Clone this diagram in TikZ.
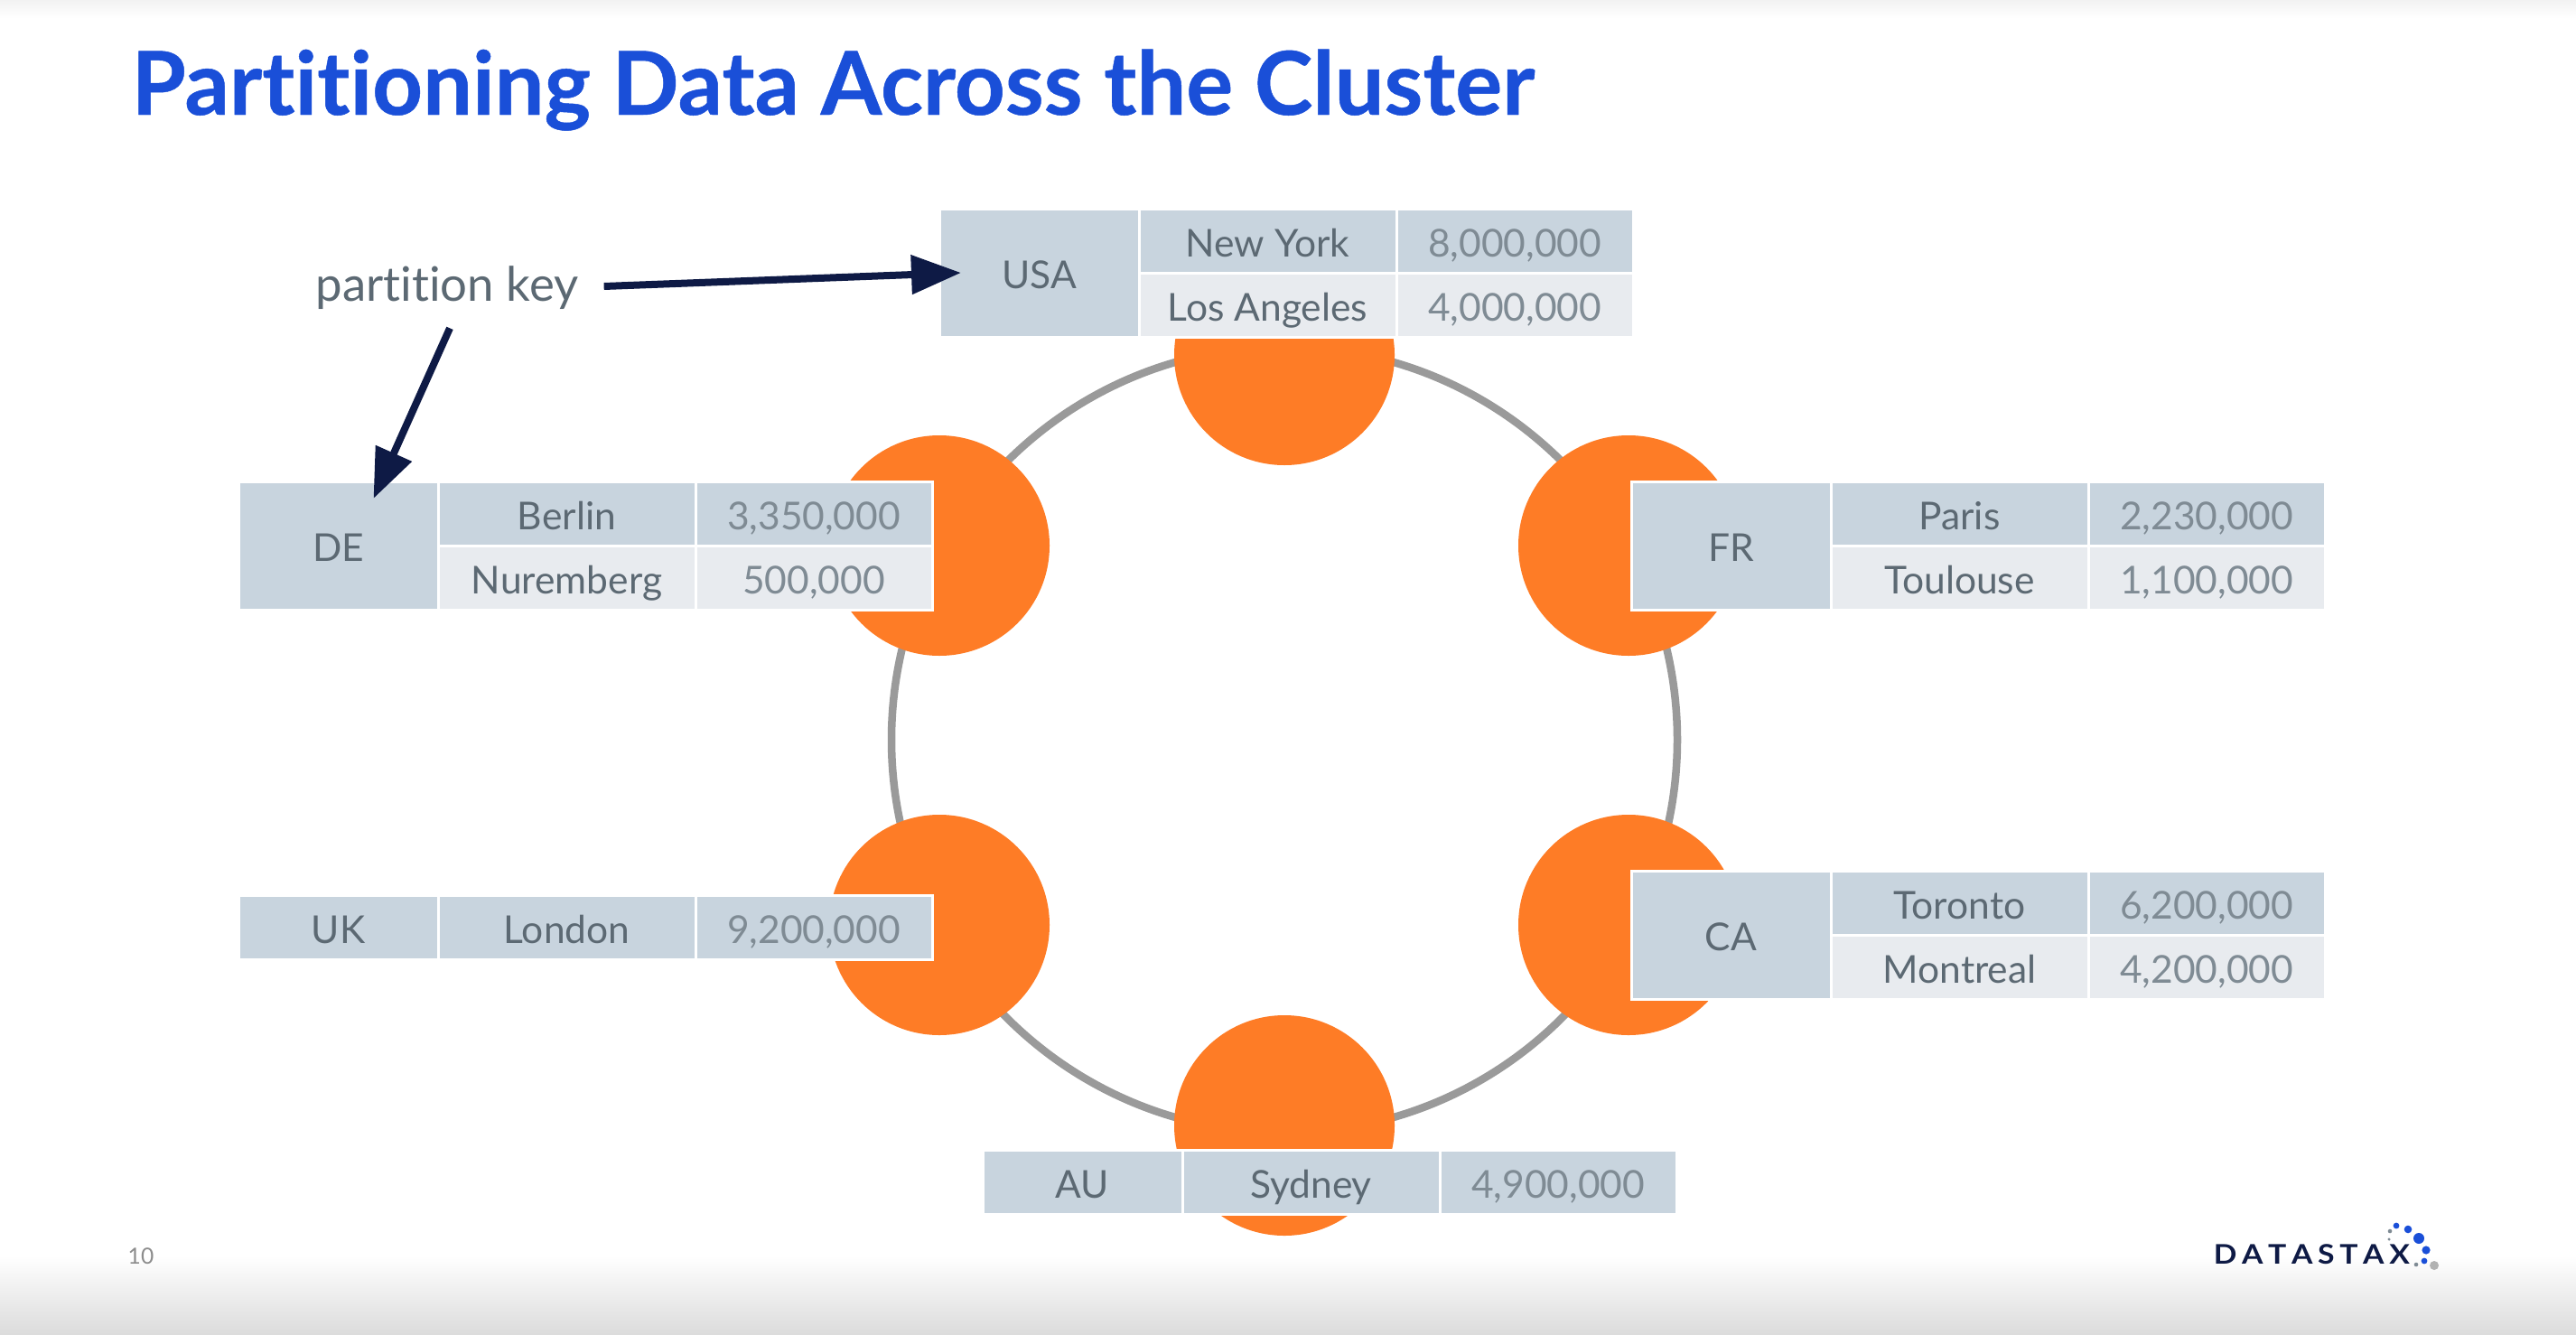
\documentclass[tikz,border=0pt]{standalone}
\usepackage{fontspec}
\setmainfont{Lato}[Ligatures=NoCommon]
\usetikzlibrary{positioning,arrows.meta,calc}

\definecolor{titleblue}{HTML}{1A4FD8}
\definecolor{slateink}{HTML}{5C6973}
\definecolor{popink}{HTML}{7F8B94}
\definecolor{darkrow}{HTML}{C8D4DE}
\definecolor{lightrow}{HTML}{E8EBEF}
\definecolor{nodeorange}{HTML}{FE7C26}
\definecolor{ringgray}{HTML}{9A9A9A}
\definecolor{navy}{HTML}{0E1A45}

\begin{document}
\begin{tikzpicture}[
	font=\fontsize{12.1}{15}\selectfont,
	cell/.style={
		draw=white,
		line width=0.03cm,
		outer sep=0pt,
		inner sep=0pt,
		align=center,
		text height=11pt,
		text depth=0.9pt,
	},
	keycell/.style={cell, fill=darkrow, text=slateink, minimum width=2.21cm},
	citydark/.style={cell, fill=darkrow, text=slateink, minimum width=2.85cm, minimum height=0.71cm},
	citylight/.style={cell, fill=lightrow, text=slateink, minimum width=2.85cm, minimum height=0.71cm},
	popdark/.style={cell, fill=darkrow, text=popink, minimum width=2.62cm, minimum height=0.71cm},
	poplight/.style={cell, fill=lightrow, text=popink, minimum width=2.62cm, minimum height=0.71cm},
	ringnode/.style={circle, fill=nodeorange, minimum size=2.44cm, inner sep=0pt},
	arr/.style={-{Triangle[length=0.55cm,width=0.42cm]}, navy, line width=0.08cm},
]
\useasboundingbox (0,0) rectangle (28.52,-14.78);

% Slide background
\fill[white] (0,0) rectangle (28.52,-14.78);
\shade[top color=black!5, bottom color=white] (0,0) rectangle (28.52,-0.2);
\shade[top color=white, bottom color=black!14] (0,-13.9) rectangle (28.52,-14.78);

\node[anchor=base west, inner sep=0pt, text=titleblue, font=\fontsize{27.7}{34}\selectfont\bfseries\addfontfeatures{FakeBold=0.5}] (title) at (1.45,-1.27) {Partitioning Data Across the Cluster};

% Ring and its six nodes
\node[circle, draw=ringgray, line width=0.085cm, minimum size=8.7cm, inner sep=0pt] (ring) at (14.22,-8.19) {};
\node[ringnode] (top) at (14.22,-3.93) {};
\node[ringnode] (upleft) at (10.40,-6.04) {};
\node[ringnode] (upright) at (18.03,-6.04) {};
\node[ringnode] (lowleft) at (10.40,-10.24) {};
\node[ringnode] (lowright) at (18.03,-10.24) {};
\node[ringnode] (bottom) at (14.22,-12.46) {};

% USA table
\node[keycell, minimum height=1.42cm, anchor=north west] (usa) at (10.40,-2.31) {USA};
\node[citydark, anchor=north west] (newyork) at (usa.north east) {New York};
\node[popdark, right=0pt of newyork] (newyorkpop) {8,000,000};
\node[citylight, below=0pt of newyork] (losangeles) {Los Angeles};
\node[poplight, right=0pt of losangeles] (losangelespop) {4,000,000};

% DE table
\node[keycell, minimum height=1.42cm, anchor=north west] (de) at (2.64,-5.33) {DE};
\node[citydark, anchor=north west] (berlin) at (de.north east) {Berlin};
\node[popdark, right=0pt of berlin] (berlinpop) {3,350,000};
\node[citylight, below=0pt of berlin] (nuremberg) {Nuremberg};
\node[poplight, right=0pt of nuremberg] (nurembergpop) {500,000};

% FR table
\node[keycell, minimum height=1.42cm, anchor=north west] (fr) at (18.06,-5.33) {FR};
\node[citydark, anchor=north west] (paris) at (fr.north east) {Paris};
\node[popdark, right=0pt of paris] (parispop) {2,230,000};
\node[citylight, below=0pt of paris] (toulouse) {Toulouse};
\node[poplight, right=0pt of toulouse] (toulousepop) {1,100,000};

% UK table
\node[keycell, minimum height=0.71cm, anchor=north west] (uk) at (2.64,-9.91) {UK};
\node[citydark, right=0pt of uk] (london) {London};
\node[popdark, right=0pt of london] (londonpop) {9,200,000};

% CA table
\node[keycell, minimum height=1.42cm, anchor=north west] (ca) at (18.06,-9.64) {CA};
\node[citydark, anchor=north west] (toronto) at (ca.north east) {Toronto};
\node[popdark, right=0pt of toronto] (torontopop) {6,200,000};
\node[citylight, below=0pt of toronto] (montreal) {Montreal};
\node[poplight, right=0pt of montreal] (montrealpop) {4,200,000};

% AU table
\node[keycell, minimum height=0.71cm, anchor=north west] (au) at (10.88,-12.73) {AU};
\node[citydark, right=0pt of au] (sydney) {Sydney};
\node[popdark, right=0pt of sydney] (sydneypop) {4,900,000};

% Partition key label with its two arrows
\node[text=slateink, font=\fontsize{15}{18}\selectfont] (pkey) at (4.95,-3.19) {partition key};
\coordinate (usaTip) at ($(usa.west)+(0.24,0)$);
\coordinate (deTip) at ($(de.north)+(0.39,-0.19)$);
\coordinate (pkeyBelow) at ($(pkey.south)+(0.03,-0.08)$);
\draw[arr] ($(pkey.east)+(0.16,0.02)$) -- (usaTip);
\draw[arr] (pkeyBelow) -- (deTip);

% Page number and logo
\node[text=black!45, font=\fontsize{7}{8}\selectfont] (pagenum) at (1.56,-13.91) {10};
\node[text=navy, anchor=west, inner sep=0pt, font=\fontsize{8.5}{10}\selectfont\bfseries, xscale=1.13] (logo) at (24.50,-13.89) {D\,A\,T\,A\,S\,T\,A\,X};
\foreach \dotx/\doty/\dotr/\dotcol in {
	2653/1357/3.4/titleblue, 2666/1361/4.3/titleblue, 2678/1371/6/titleblue,
	2686/1384/4.6/titleblue, 2684/1396/3.4/titleblue, 2695/1401/5/black!30,
	2675/1400/2.3/popink, 2646/1363/2.3/popink, 2645/1372/1.7/popink}
	\fill[\dotcol] (\dotx/100,-\doty/100) circle (\dotr/100);
\end{tikzpicture}
\end{document}
